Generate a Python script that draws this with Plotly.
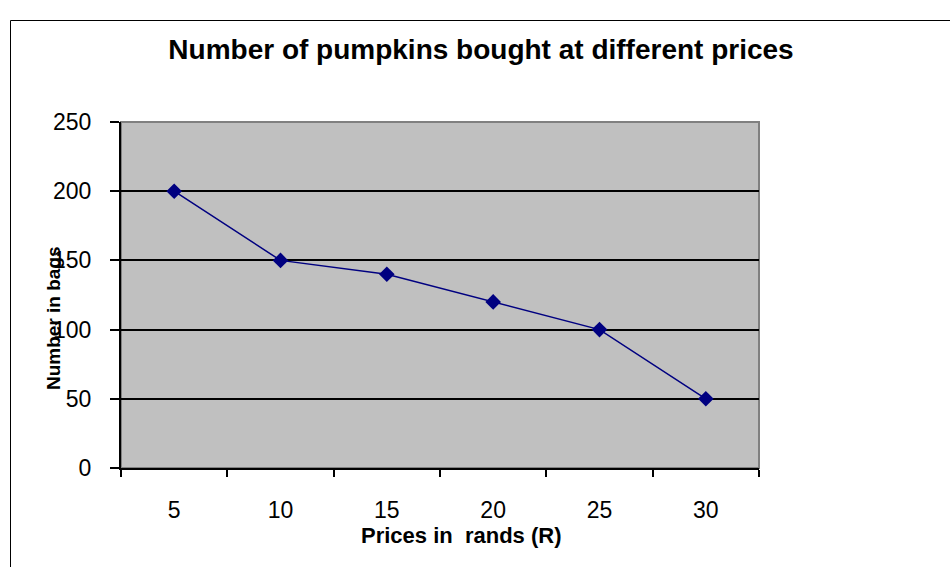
import plotly.graph_objects as go

prices = ["5", "10", "15", "20", "25", "30"]
bags = [200, 150, 140, 120, 100, 50]
y_ticks = [0, 50, 100, 150, 200, 250]

W, H = 950, 567
L, R, T, B = 121, 759, 122, 468
pw, ph = R - L, B - T

def px(x):
    return (x - L) / pw

def py(y):
    return (B - y) / ph

FONT = "Liberation Sans, Arial, sans-serif"

fig = go.Figure()
fig.add_trace(go.Scatter(
    x=prices, y=bags, mode="lines+markers",
    line=dict(color="#000080", width=1.5),
    marker=dict(symbol="diamond", size=12, color="#000080"),
    showlegend=False,
))

fig.update_layout(
    width=W, height=H,
    margin=dict(l=L, r=W - R, t=T, b=H - B, pad=0),
    paper_bgcolor="white",
    plot_bgcolor="#C0C0C0",
    font=dict(family=FONT, color="black", size=23),
    title=dict(
        text="<b>Number of pumpkins bought at different prices</b>",
        x=px(481), xref="paper", xanchor="center",
        y=1 - 49 / H, yref="container", yanchor="middle",
        font=dict(size=28, family=FONT, color="black"),
    ),
    xaxis=dict(
        type="category", range=[-0.5, 5.5],
        tickson="boundaries", ticks="outside", ticklen=7, tickwidth=1.5,
        tickcolor="black", showline=True, linecolor="black", linewidth=2,
        showgrid=False, ticklabelstandoff=20,
        tickfont=dict(size=23, family=FONT, color="black"),
        fixedrange=True,
    ),
    yaxis=dict(
        range=[0, 250], tickvals=y_ticks, ticks="outside", ticklen=9,
        tickwidth=1.5, tickcolor="black", showline=True, linecolor="black",
        linewidth=2, showgrid=True, gridcolor="black", gridwidth=1.5,
        zeroline=False, ticklabelstandoff=14,
        tickfont=dict(size=23, family=FONT, color="black"),
        fixedrange=True,
    ),
    shapes=[
        dict(type="rect", xref="paper", yref="paper", x0=0, x1=1, y0=0, y1=1,
             line=dict(color="#808080", width=2), fillcolor="rgba(0,0,0,0)",
             layer="below"),
        dict(type="rect", xref="paper", yref="paper",
             x0=px(10.5), x1=px(970), y0=py(20.5), y1=py(590),
             line=dict(color="black", width=1), fillcolor="rgba(0,0,0,0)",
             layer="below"),
    ],
    annotations=[
        dict(text="<b>Number in bags</b>", xref="paper", yref="paper",
             x=px(53), y=py(318), textangle=-90, showarrow=False,
             xanchor="center", yanchor="middle",
             font=dict(size=19, family=FONT, color="black")),
        dict(text="<b>Prices in  rands (R)</b>", xref="paper", yref="paper",
             x=px(461), y=py(535), showarrow=False, xanchor="center",
             yanchor="middle", font=dict(size=22, family=FONT, color="black")),
    ],
)

fig.write_html(
    "out.html",
    config={"displayModeBar": False},
    post_script="document.body.style.margin='0';document.body.style.overflow='hidden';",
)
